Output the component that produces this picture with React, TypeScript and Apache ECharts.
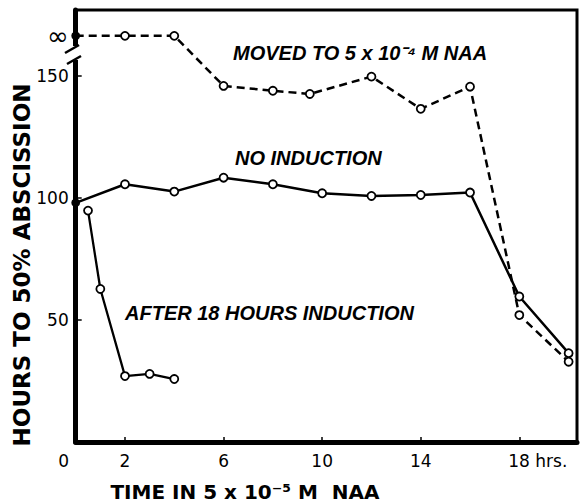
import React, { useEffect, useRef } from "react";
import * as echarts from "echarts";

const INF = 166.4;
const movedX = [0, 2, 4, 6, 8, 9.5, 12, 14, 16, 18, 20];
const movedY = [INF, INF, INF, 145.9, 143.9, 142.6, 149.7, 136.5, 145.6, 52.0, 32.9];
const noIndX = [0, 2, 4, 6, 8, 10, 12, 14, 16, 18, 20];
const noIndY = [98.0, 105.6, 102.6, 108.3, 105.6, 101.9, 100.8, 101.2, 102.2, 59.6, 36.4];
const afterX = [0.5, 1, 2, 3, 4];
const afterY = [94.8, 62.7, 27.0, 27.9, 25.8];
const xTickValues = [2, 6, 10, 14, 18];
const xLabelValues = [0, 2, 6, 10, 14, 18];
const yTickValues = [50, 100, 150];
const yLabelValues = [50, 100, 150, INF];

const pairs = (xs: number[], ys: number[], fillFirstAtZero: boolean) =>
  xs.map((x, i) =>
    fillFirstAtZero && i === 0
      ? { value: [x, ys[i]], symbolSize: 7, itemStyle: { color: "#000", borderColor: "#000" } }
      : [x, ys[i]]
  );

export default function App() {
  const ref = useRef<HTMLDivElement>(null);
  useEffect(() => {
    document.body.style.margin = "0";
    const chart = echarts.init(ref.current!, null, { renderer: "svg" });
    const itemStyle = { color: "#fff", borderColor: "#000", borderWidth: 1.8 };
    const labelFont = "DejaVu Sans";
    chart.setOption({
      animation: false,
      backgroundColor: "#fff",
      grid: {
        left: 75.7,
        right: 3,
        top: 10,
        bottom: 62,
        show: true,
        borderColor: "#000",
        borderWidth: 3,
        backgroundColor: "transparent",
      },
      xAxis: {
        type: "value",
        min: 0,
        max: 20.34,
        axisLine: { lineStyle: { color: "#000", width: 5 } },
        splitLine: { show: false },
        axisTick: {
          customValues: xTickValues,
          inside: true,
          length: 5,
          lineStyle: { color: "#000", width: 1.5 },
        },
        axisLabel: {
          customValues: xLabelValues,
          margin: 10,
          formatter: (v: number) =>
            v === 0 ? "{n|0}{p0|}" : v === 18 ? "{p18|}{n|18}{n| hrs.}" : "{n|" + v + "}",
          rich: {
            n: { fontSize: 17, fontFamily: labelFont, color: "#000" },
            p0: { width: 24 },
            p18: { width: 37 },
          },
        },
      },
      yAxis: {
        type: "value",
        min: 0,
        max: 177,
        axisLine: { lineStyle: { color: "#000", width: 5 } },
        splitLine: { show: false },
        axisTick: {
          customValues: yTickValues,
          inside: true,
          length: 6,
          lineStyle: { color: "#000", width: 1.5 },
        },
        axisLabel: {
          customValues: yLabelValues,
          margin: 7,
          formatter: (v: number) => (Math.abs(v - INF) < 0.01 ? "{inf|∞}" : "{n|" + v + "}"),
          rich: {
            n: { fontSize: 17, fontFamily: labelFont, color: "#000" },
            inf: { fontSize: 26, fontFamily: labelFont, color: "#000" },
          },
        },
      },
      series: [
        {
          name: "Moved to 5x10^-4 M NAA",
          type: "line",
          data: pairs(movedX, movedY, true),
          symbol: "circle",
          symbolSize: 8,
          itemStyle,
          lineStyle: { color: "#000", width: 2.5, type: [8, 5] },
          z: 3,
        },
        {
          name: "No induction",
          type: "line",
          data: pairs(noIndX, noIndY, true),
          symbol: "circle",
          symbolSize: 8,
          itemStyle,
          lineStyle: { color: "#000", width: 2.5 },
          z: 3,
        },
        {
          name: "After 18 hours induction",
          type: "line",
          data: pairs(afterX, afterY, false),
          symbol: "circle",
          symbolSize: 8,
          itemStyle,
          lineStyle: { color: "#000", width: 2.3 },
          z: 3,
        },
      ],
      graphic: [
        { type: "rect", z: 100, shape: { x: 68, y: 46, width: 14, height: 14 }, style: { fill: "#fff" } },
        { type: "line", z: 101, shape: { x1: 65, y1: 53, x2: 79, y2: 45 }, style: { stroke: "#000", lineWidth: 2.5 } },
        { type: "line", z: 101, shape: { x1: 67, y1: 64, x2: 81, y2: 56 }, style: { stroke: "#000", lineWidth: 2.5 } },
        {
          type: "text",
          z: 100,
          x: 233,
          y: 53,
          style: {
            text: "MOVED TO 5 x 10⁻⁴ M NAA",
            fontSize: 20,
            fontWeight: "bold",
            fontStyle: "italic",
            fontFamily: "Liberation Sans",
            verticalAlign: "middle",
            fill: "#000",
          },
        },
        {
          type: "text",
          z: 100,
          x: 235,
          y: 158,
          style: {
            text: "NO INDUCTION",
            fontSize: 20,
            fontWeight: "bold",
            fontStyle: "italic",
            fontFamily: "Liberation Sans",
            verticalAlign: "middle",
            fill: "#000",
          },
        },
        {
          type: "text",
          z: 100,
          x: 125,
          y: 313,
          style: {
            text: "AFTER 18 HOURS INDUCTION",
            fontSize: 20,
            fontWeight: "bold",
            fontStyle: "italic",
            fontFamily: "Liberation Sans",
            verticalAlign: "middle",
            fill: "#000",
          },
        },
        {
          type: "text",
          z: 100,
          x: 22,
          y: 265,
          rotation: Math.PI / 2,
          style: {
            text: "HOURS TO 50% ABSCISSION",
            fontSize: 23,
            fontWeight: "bold",
            fontFamily: "DejaVu Sans",
            align: "center",
            verticalAlign: "middle",
            fill: "#000",
          },
        },
        {
          type: "text",
          z: 100,
          x: 245,
          y: 492,
          style: {
            text: "TIME IN 5 x 10⁻⁵ M  NAA",
            fontSize: 20,
            fontWeight: "bold",
            fontFamily: "DejaVu Sans",
            align: "center",
            verticalAlign: "middle",
            fill: "#000",
          },
        },
      ],
    });
    return () => chart.dispose();
  }, []);
  return <div ref={ref} style={{ width: 580, height: 504 }} />;
}
